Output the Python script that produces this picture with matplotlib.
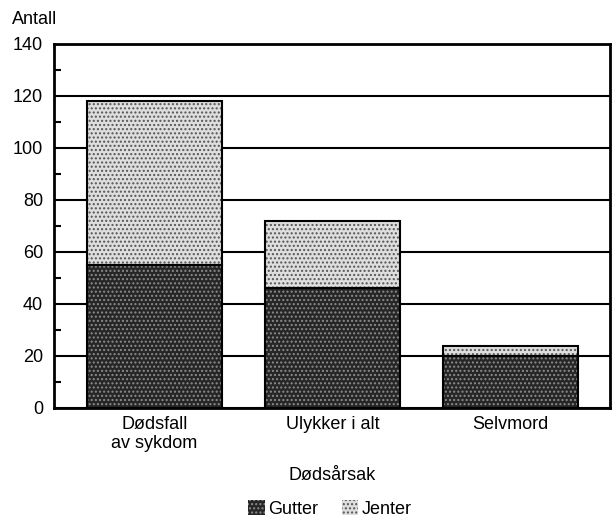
import matplotlib.pyplot as plt
import numpy as np
from matplotlib.patches import Patch

categories = ['Dødsfall\nav sykdom', 'Ulykker i alt', 'Selvmord']
gutter = [55, 46, 20]
jenter = [63, 26, 4]

plt.rcParams['font.family'] = ['Liberation Sans', 'DejaVu Sans']
plt.rcParams['hatch.linewidth'] = 1.0
fs = 13

fig = plt.figure(figsize=(6.14, 5.21), dpi=100)
ax = fig.add_axes([54/614, 1 - 408/521, 556/614, 364/521])

x = np.arange(len(categories))
w = 0.76
dark_fc, dark_hc = '#262626', '#8c8c8c'
light_fc, light_hc = '#dedede', '#555555'

ax.bar(x, gutter, w, color=dark_fc, edgecolor=dark_hc, hatch='....', lw=0, zorder=3)
ax.bar(x, jenter, w, bottom=gutter, color=light_fc, edgecolor=light_hc, hatch='....', lw=0, zorder=3)
ax.bar(x, gutter, w, fill=False, edgecolor='black', lw=1.5, zorder=4)
ax.bar(x, jenter, w, bottom=gutter, fill=False, edgecolor='black', lw=1.5, zorder=4)

ax.set_xlim(-0.565, 2.56)
ax.set_ylim(0, 140)
ax.set_yticks(range(0, 141, 20))
ax.set_yticks(range(10, 140, 20), minor=True)
ax.tick_params(axis='y', which='major', length=0, labelsize=fs, pad=8)
ax.tick_params(axis='y', which='minor', direction='in', length=5, width=1.5)
ax.set_xticks(x)
ax.set_xticklabels(categories, fontsize=fs, linespacing=1.15)
ax.tick_params(axis='x', length=0, pad=6)
ax.yaxis.grid(True, color='black', lw=1.5, zorder=0)
ax.set_axisbelow(True)
for s in ax.spines.values():
    s.set_linewidth(2)

fig.text(12/614, 1 - 20/521, 'Antall', fontsize=fs, va='center', ha='left')
fig.text(332/614, 1 - 476/521, 'Dødsårsak', fontsize=fs, ha='center', va='center')

handles = [Patch(facecolor=dark_fc, edgecolor=dark_hc, hatch='....', lw=0),
           Patch(facecolor=light_fc, edgecolor=light_hc, hatch='....', lw=0)]
leg = fig.legend(handles, ['Gutter', 'Jenter'], loc='center', bbox_to_anchor=(330/614, 1 - 509/521),
                 ncol=2, frameon=False, fontsize=fs, handlelength=0.9, handleheight=0.9,
                 handletextpad=0.2, columnspacing=1.3, borderpad=0)

fig.savefig('out.png', dpi=100)
